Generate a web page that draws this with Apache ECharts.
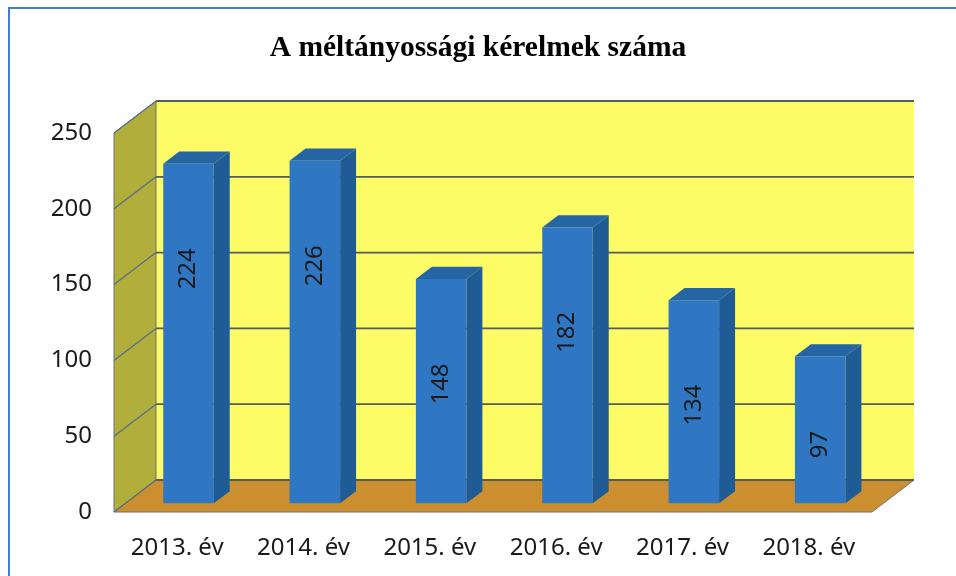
<!DOCTYPE html>
<html>
<head>
<meta charset="utf-8">
<script src="https://cdn.jsdelivr.net/npm/echarts@6/dist/echarts.min.js"></script>
<style>
    html, body { margin: 0; padding: 0; background: #fff; }
    #chart { width: 956px; height: 576px; }
</style>
</head>
<body>
<div id="chart"></div>
<script>
// chart data
const categories = ["2013. év", "2014. év", "2015. év", "2016. év", "2017. év", "2018. év"];
const values = [224, 226, 148, 182, 134, 97];
const yTicks = [0, 50, 100, 150, 200, 250];

// 3D box layout: back wall grid vs. front (label) grid
const BACK = { left: 156, top: 101, width: 758, height: 379 };
const FRONT = { left: 114, top: 133, width: 758, height: 379 };
const DX = FRONT.left - BACK.left; // front is left of back
const DY = FRONT.top - BACK.top;   // front is below back
const BAR_FRONT = 0.27; // depth fraction of bar front face (0 = front plane)
const BAR_BACK = 0.65;

const chart = echarts.init(document.getElementById("chart"));

const renderWalls = (params, api) => {
    const cs = params.coordSys;
    const x0 = cs.x, x1 = cs.x + cs.width;
    const yt = cs.y, yb = cs.y + cs.height;
    const wallLine = { stroke: "#6d746f", lineWidth: 1 };
    const children = [
        { type: "rect", shape: { x: x0, y: yt, width: cs.width, height: cs.height }, style: { fill: "#fdfb66" } },
        {
            type: "polygon",
            shape: { points: [[x0, yt], [x0, yb], [x0 + DX, yb + DY], [x0 + DX, yt + DY]] },
            style: Object.assign({ fill: "#b2ae3c" }, wallLine),
        },
        {
            type: "polygon",
            shape: { points: [[x0, yb], [x1, yb], [x1 + DX, yb + DY], [x0 + DX, yb + DY]] },
            style: Object.assign({ fill: "#cb8f2f" }, wallLine),
        },
    ];
    yTicks.forEach((t) => {
        const y = api.coord([0, t])[1];
        children.push({ type: "line", shape: { x1: x0, y1: y, x2: x1, y2: y }, style: { stroke: "#555d58", lineWidth: 1.8 } });
        children.push({ type: "line", shape: { x1: x0, y1: y, x2: x0 + DX, y2: y + DY }, style: { stroke: "#51708a", lineWidth: 1.2 } });
    });
    return { type: "group", children: children };
};

const renderBar = (params, api) => {
    const idx = api.value(0);
    const base = api.coord([idx, 0]);
    const top = api.coord([idx, api.value(1)]);
    const w = api.size([1, 0])[0] * 0.4;
    const ox = -DX * BAR_FRONT, oy = -DY * BAR_FRONT;
    const sx = -DX * (BAR_BACK - BAR_FRONT), sy = -DY * (BAR_BACK - BAR_FRONT);
    const xL = base[0] + ox - w / 2, xR = xL + w;
    const yT = top[1] + oy, yB = base[1] + oy;
    const h = yB - yT;
    return {
        type: "group",
        children: [
            {
                type: "polygon",
                shape: { points: [[xR, yT], [xR + sx, yT + sy], [xR + sx, yB + sy], [xR, yB]] },
                style: { fill: "#1f5c96" },
            },
            {
                type: "polygon",
                shape: { points: [[xL, yT], [xR, yT], [xR + sx, yT + sy], [xL + sx, yT + sy]] },
                style: { fill: "#2565a4" },
            },
            { type: "rect", shape: { x: xL, y: yT, width: w, height: h }, style: { fill: "#2f77c3" } },
            {
                type: "text",
                x: xL + w / 2,
                y: yT + Math.min(105, h * 0.6),
                rotation: Math.PI / 2,
                style: {
                    text: String(api.value(1)),
                    fontSize: 24,
                    fontFamily: "Noto Sans",
                    fill: "#1a1a1a",
                    align: "center",
                    verticalAlign: "middle",
                },
            },
        ],
    };
};

const option = {
    animation: false,
    title: {
        text: "A méltányossági kérelmek száma",
        left: "center",
        top: 28,
        textStyle: { fontFamily: "Liberation Serif", fontWeight: "bold", fontSize: 29.5, color: "#000" },
    },
    graphic: [
        {
            type: "rect",
            shape: { x: 9, y: 8, width: 960, height: 580 },
            style: { fill: "none", stroke: "#3f7fd0", lineWidth: 2 },
        },
    ],
    grid: [
        Object.assign({}, BACK),
        Object.assign({}, FRONT),
    ],
    xAxis: [
        { gridIndex: 0, type: "category", data: categories, show: false },
        {
            gridIndex: 1,
            type: "category",
            data: categories,
            axisLine: { show: false },
            axisTick: { show: false },
            axisLabel: { margin: 24, fontSize: 24, fontFamily: "Noto Sans", color: "#1a1a1a" },
        },
    ],
    yAxis: [
        { gridIndex: 0, type: "value", min: 0, max: 250, interval: 50, show: false },
        {
            gridIndex: 1,
            type: "value",
            min: 0,
            max: 250,
            interval: 50,
            axisLine: { show: false },
            axisTick: { show: false },
            splitLine: { show: false },
            axisLabel: { margin: 22, fontSize: 24, fontFamily: "Noto Sans", color: "#1a1a1a" },
        },
    ],
    series: [
        {
            type: "custom",
            xAxisIndex: 0,
            yAxisIndex: 0,
            z: 1,
            silent: true,
            renderItem: renderWalls,
            data: [[0, 0]],
        },
        {
            type: "custom",
            xAxisIndex: 1,
            yAxisIndex: 1,
            z: 2,
            renderItem: renderBar,
            encode: { x: 0, y: 1 },
            data: values.map((v, i) => [i, v]),
        },
    ],
};

chart.setOption(option);
</script>
</body>
</html>
